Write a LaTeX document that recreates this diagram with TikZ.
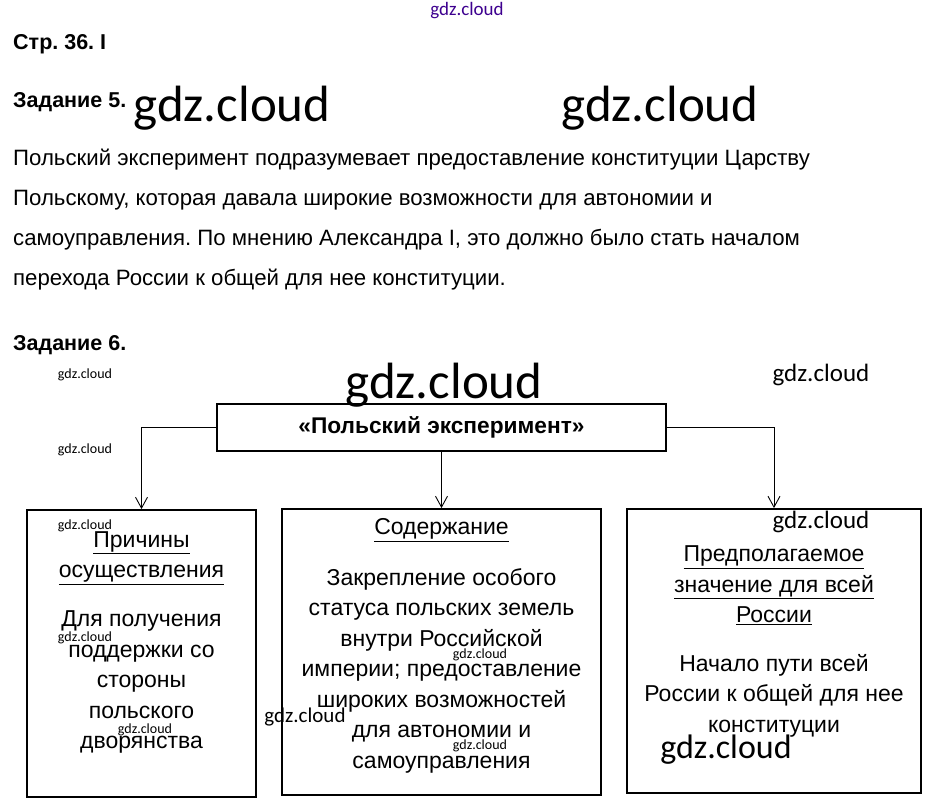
\documentclass[tikz,border=0pt]{standalone}
\usepackage{fontspec}
\setmainfont{Liberation Sans}
\newfontfamily\wmfont{Carlito}
\usetikzlibrary{arrows.meta, positioning}
\frenchspacing

\tikzset{
	head/.style={anchor=west, inner sep=0, font=\fontsize{21.5}{24}\selectfont\bfseries},
	para/.style={anchor=west, inner sep=0, align=left, font=\fontsize{22.2}{40}\selectfont},
	box/.style={draw, line width=1.8pt, inner sep=0},
	blocktext/.style={align=center, inner sep=0, font=\fontsize{23}{30.5}\selectfont},
	wm/.style={inner sep=0, font=\wmfont\fontsize{#1}{#1}\selectfont},
	link/.style={-{Straight Barb[length=11pt, width=12pt]}, line width=0.9pt}
}

\begin{document}
\begin{tikzpicture}[x=1pt, y=-1pt]
	\useasboundingbox (0,0) rectangle (935,806);
	
	% 1. Headings and answer of task 5
	\node[wm=19, text=blue!70!red!80!black] (wm0) at (467,11) {gdz.cloud};
	\node[head] (page) at (13,44) {Стр. 36. I};
	\node[head] (task5) at (13,102) {Задание 5.};
	\node[para] (answer5) at (13,220) {Польский эксперимент подразумевает предоставление конституции Царству\\
		Польскому, которая давала широкие возможности для автономии и\\
		самоуправления. По мнению Александра I, это должно было стать началом\\
		перехода России к общей для нее конституции.};
	\node[head] (task6) at (13,345) {Задание 6.};
	
	% 2. Scheme of task 6
	\node[box, line width=1.4pt, minimum width=449, minimum height=47, font=\fontsize{22.7}{26}\selectfont\bfseries] (exp) at (441.5,427.5) {«Польский эксперимент»};
	\node[box, minimum width=229, minimum height=287] (cause) at (141.5,653.5) {};
	\node[box, minimum width=319, minimum height=286] (content) at (441.5,652) {};
	\node[box, minimum width=294, minimum height=284] (mean) at (774,651) {};
	
	\draw[link] (exp.west) -| (cause.north);
	\draw[link] (exp.south) -- (content.north);
	\draw[link] (exp.east) -| (mean.north);
	
	% Texts in the boxes
	\node[blocktext] (causehead) at (141.5,558) {\underline{Причины}\\\underline{осуществления}};
	\node[blocktext] (causebody) at (141.5,682) {Для получения\\поддержки со\\стороны\\польского\\дворянства};
	\node[blocktext] (contenthead) at (441.5,530) {\underline{Содержание}};
	\node[blocktext] (contentbody) at (441.5,670.5) {Закрепление особого\\статуса польских земель\\внутри Российской\\империи; предоставление\\широких возможностей\\для автономии и\\самоуправления};
	\node[blocktext] (meanhead) at (774,585.5) {\underline{Предполагаемое}\\\underline{значение для всей}\\\underline{России}};
	\node[blocktext] (meanbody) at (774,695.5) {Начало пути всей\\России к общей для нее\\конституции};
	
	% 3. Watermarks
	\node[wm=51] (wm1) at (232,108) {gdz.cloud};
	\node[wm=51] (wm2) at (660,108) {gdz.cloud};
	\node[wm=51] (wm3) at (444,385) {gdz.cloud};
	\node[wm=34] (wm4) at (726,750) {gdz.cloud};
	\node[wm=25] (wm5) at (821,375) {gdz.cloud};
	\node[wm=25] (wm6) at (821,522) {gdz.cloud};
	\node[wm=21] (wm7) at (305,717) {gdz.cloud};
	\foreach \x/\y in {85/375, 85/450, 85/526, 85/638, 480/655, 145/730, 480/746}
		\node[wm=14] at (\x,\y) {gdz.cloud};
	
\end{tikzpicture}
\end{document}
